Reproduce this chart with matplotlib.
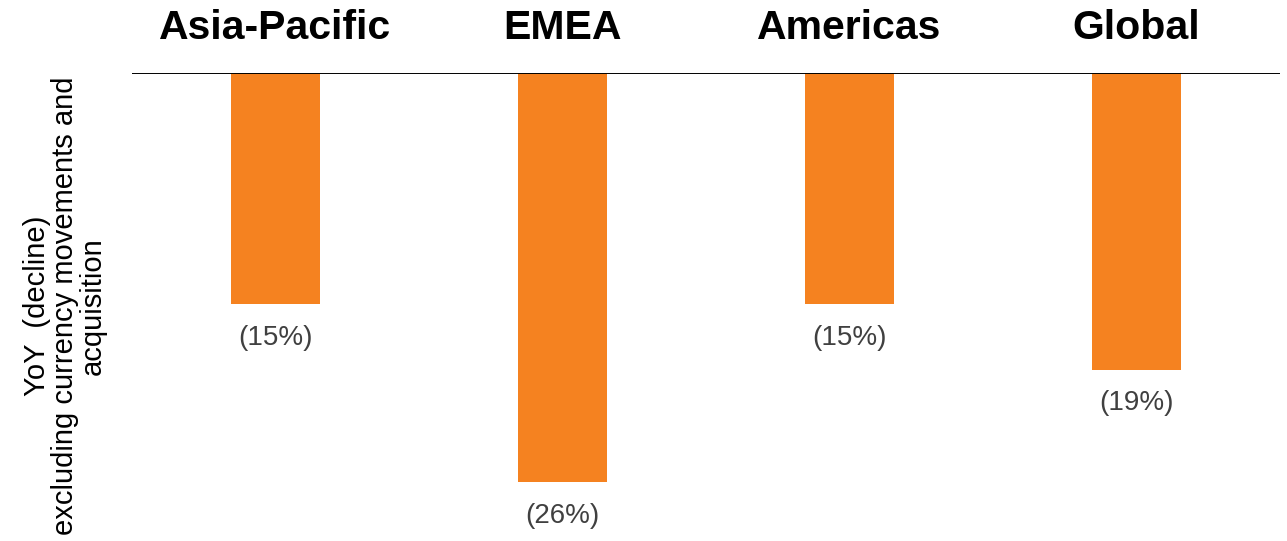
import matplotlib
matplotlib.use("Agg")
import matplotlib.pyplot as plt
import numpy as np

plt.rcParams['font.family'] = ['Liberation Sans', 'DejaVu Sans']

regions = ["Asia-Pacific", "EMEA", "Americas", "Global"]
yoy = [-14.8, -26.2, -14.8, -19.0]
labels = ["(15%)", "(26%)", "(15%)", "(19%)"]
ylabel = "YoY  (decline)\nexcluding currency movements and\nacquisition"

fig = plt.figure(figsize=(12.87, 5.41), dpi=100)
ax = fig.add_axes([132 / 1287, 1 - 537 / 541, (1280 - 132) / 1287, (537 - 73) / 541])

x = np.arange(len(regions))
ax.bar(x, yoy, width=0.31, color="#F58220")
ax.axhline(0, color="black", lw=1.4)

for i, v in enumerate(yoy):
    ax.annotate(labels[i], (x[i], v), xytext=(0, -24), textcoords="offset points",
                ha="center", va="center", fontsize=20, color="#404040")
    ax.text(x[i], 1 + 34 / 464, regions[i], transform=ax.get_xaxis_transform(),
            ha="center", va="baseline", fontsize=29.5, fontweight="bold", color="black")

ax.set_xlim(-0.5, 3.5)
ax.set_ylim(-29.7, 0)
ax.set_xticks([])
ax.set_yticks([])
for s in ax.spines.values():
    s.set_visible(False)

fig.text(65 / 1287, 1 - 306 / 541, ylabel, rotation=90, ha="center", va="center",
         multialignment="center", fontsize=21, linespacing=1.0, color="black")

fig.savefig("out.png", dpi=100)
